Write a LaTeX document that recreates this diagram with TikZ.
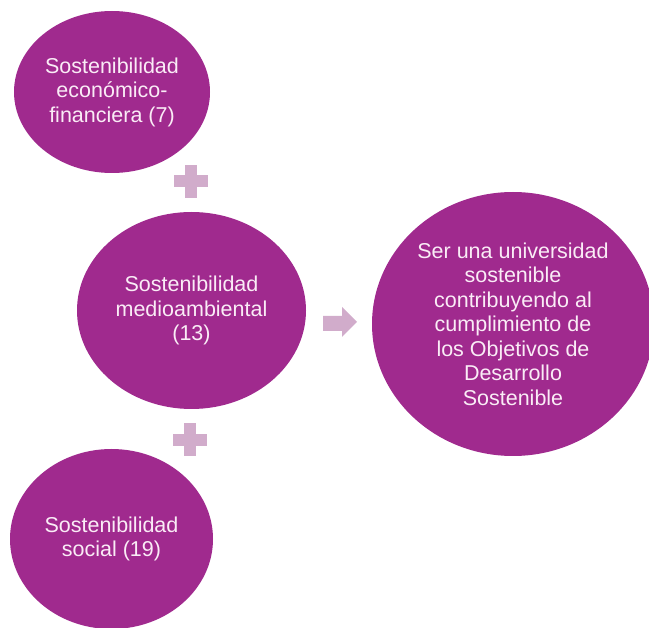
\documentclass[tikz,border=0pt]{standalone}
\usepackage{fontspec}
\setmainfont{Liberation Sans}
\usetikzlibrary{shapes.geometric}
\definecolor{bubfill}{RGB}{160,42,142}
\definecolor{bubtext}{RGB}{250,236,246}
\definecolor{signcol}{RGB}{209,172,203}
\tikzset{
  bub/.style={ellipse, fill=bubfill, draw=none, inner sep=0pt, align=center,
    text=bubtext, font=\fontsize{21.5}{24.5}\selectfont},
  signfill/.style={fill=signcol, draw=none}
}
\begin{document}
\begin{tikzpicture}[x=1pt,y=-1pt]
\useasboundingbox (0,0) rectangle (649,628);
\clip (0,0) rectangle (649,628);
\node[bub, minimum width=196pt, minimum height=162pt] (c1) at (112,92) {Sostenibilidad\\económico-\\financiera (7)};
\node[bub, minimum width=229pt, minimum height=197pt] (c2) at (191.5,310.5) {Sostenibilidad\\medioambiental\\(13)};
\node[bub, minimum width=282pt, minimum height=264pt] (c3) at (513,324) {Ser una universidad\\sostenible\\contribuyendo al\\cumplimiento de\\los Objetivos de\\Desarrollo\\Sostenible};
\node[bub, minimum width=203pt, minimum height=180pt] (c4) at (111.5,539) {Sostenibilidad\\social (19)};
% plus signs
\coordinate (p1) at (190.5,181.5);
\coordinate (p2) at (190,440);
\foreach \p in {p1,p2}{
  \fill[signfill] ([xshift=-17pt,yshift=6pt]\p) rectangle ([xshift=17pt,yshift=-6pt]\p);
  \fill[signfill] ([xshift=-6pt,yshift=16.5pt]\p) rectangle ([xshift=6pt,yshift=-16.5pt]\p);
}
% arrow
\fill[signfill] (323,316) -- (342,316) -- (342,307) -- (357,322) -- (342,337) -- (342,331) -- (323,331) -- cycle;
\end{tikzpicture}
\end{document}
